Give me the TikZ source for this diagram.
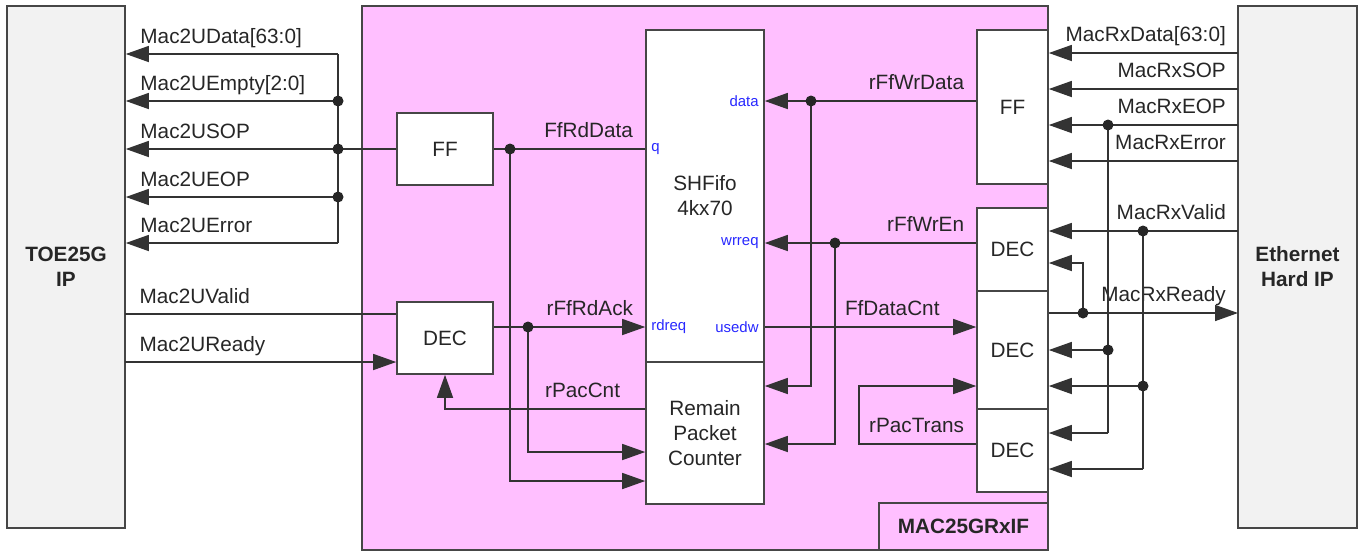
\documentclass[tikz,border=0pt]{standalone}
\usepackage{fontspec}
\setmainfont{Liberation Sans}
\usetikzlibrary{arrows.meta,positioning}

\definecolor{rose}{RGB}{255,191,255}
\definecolor{gris}{RGB}{242,242,242}
\definecolor{trait}{RGB}{70,70,70}
\definecolor{port}{RGB}{40,40,255}
\newcommand\taille{\fontsize{11.8}{14.2}\selectfont}

\tikzset{
  bloc/.style={draw=trait, line width=0.9pt, fill=white, inner sep=0pt, font=\taille},
  fil/.style={draw=black!80, line width=0.8pt},
  fl/.style={fil, -{Triangle[length=0.46cm,width=0.32cm]}},
  lg/.style={anchor=base west, inner sep=0pt, xshift=0.28cm, yshift=0.21cm},
  ld/.style={anchor=base east, inner sep=0pt, xshift=-0.23cm, yshift=0.23cm},
  portg/.style={anchor=west, text=port, font=\fontsize{8.5}{10}\selectfont},
  portd/.style={anchor=east, text=port, font=\fontsize{8.5}{10}\selectfont}
}

\begin{document}
\begin{tikzpicture}[x=0.02cm, y=-0.02cm, font=\taille, text=black!85]
\useasboundingbox (0,0) rectangle (1362,552);

% Blocs
\node[bloc, fill=rose, minimum width=13.72cm, minimum height=10.88cm] (mac) at (705,278) {};
\node[bloc, fill=gris, minimum width=2.36cm, minimum height=10.44cm, align=center, font=\taille\bfseries] (toe) at (66,267) {TOE25G\\IP};
\node[bloc, fill=gris, minimum width=2.38cm, minimum height=10.44cm, align=center, font=\taille\bfseries] (eth) at (1297.5,267) {Ethernet\\Hard IP};
\node[bloc, fill=rose, minimum width=3.38cm, minimum height=0.94cm, font=\taille\bfseries] (nom) at (963.5,526.5) {MAC25GRxIF};

\node[bloc, minimum width=1.92cm, minimum height=1.44cm] (ffL) at (445,149) {FF};
\node[bloc, minimum width=1.92cm, minimum height=1.44cm] (decL) at (445,338) {DEC};
\node[bloc, minimum width=2.36cm, minimum height=6.64cm, align=center] (fifo) at (705,196) {SHFifo\\4kx70};
\node[bloc, minimum width=2.36cm, minimum height=2.84cm, align=center, below=-0.9pt of fifo] (rpc) {Remain\\Packet\\Counter};
\node[bloc, minimum width=1.42cm, minimum height=3.08cm] (ffR) at (1012.5,107) {FF};
\node[bloc, minimum width=1.42cm, minimum height=1.66cm] (dec1) at (1012.5,249.5) {DEC};
\node[bloc, minimum width=1.42cm, minimum height=2.36cm, below=-0.9pt of dec1] (dec2) {DEC};
\node[bloc, minimum width=1.42cm, minimum height=1.66cm, below=-0.9pt of dec2] (dec3) {DEC};

% Points
\coordinate (bH) at (338,54);
\coordinate (j1) at (338,101);
\coordinate (j2) at (338,149);
\coordinate (j3) at (338,197);
\coordinate (bB) at (338,243);
\coordinate (uv) at (125,314);
\coordinate (ur) at (125,362);
\coordinate (pc) at (445,409);
\coordinate (dq) at (510,149);
\coordinate (dq2) at (510,481);
\coordinate (da) at (528,327);
\coordinate (da2) at (528,452);
\coordinate (dw) at (811,101);
\coordinate (dw2) at (811,386);
\coordinate (de) at (835,243);
\coordinate (de2) at (835,444);
\coordinate (pt) at (859,444);
\coordinate (pt2) at (859,386);
\coordinate (rd) at (1238,53);
\coordinate (rs) at (1238,89);
\coordinate (re) at (1238,125);
\coordinate (rx) at (1238,161);
\coordinate (rv) at (1238,231);
\coordinate (rr) at (1238,313);
\coordinate (ke) at (1108,125);
\coordinate (ke2) at (1108,350);
\coordinate (ke3) at (1108,433);
\coordinate (kv) at (1143,231);
\coordinate (kv2) at (1143,386);
\coordinate (kv3) at (1143,469);
\coordinate (kr) at (1083,313);
\coordinate (kr1) at (1083,263);

% Sorties vers TOE25G
\draw[fil] (bH) -- (bB);
\draw[fil] (ffL.west) -- (j2);
\draw[fl] (bH) -- (bH -| toe.east) node[lg] (lData) {Mac2UData[63:0]};
\draw[fl] (j1) -- (j1 -| toe.east) node[lg] (lEmpty) {Mac2UEmpty[2:0]};
\draw[fl] (j2) -- (j2 -| toe.east) node[lg] (lSop) {Mac2USOP};
\draw[fl] (j3) -- (j3 -| toe.east) node[lg] (lEop) {Mac2UEOP};
\draw[fl] (bB) -- (bB -| toe.east) node[lg] (lErr) {Mac2UError};
\draw[fil] (uv) node[lg] (lValid) {Mac2UValid} -- (uv -| decL.west);
\draw[fl] (ur) node[lg] (lReady) {Mac2UReady} -- (ur -| decL.west);

% Lecture FIFO
\draw[fil] (ffL.east) -- (ffL.east -| fifo.west) node[ld] (lRdData) {FfRdData};
\draw[fl] (dq) -- (dq2) -- (dq2 -| rpc.west);
\draw[fl] (decL.east |- da) -- (da -| fifo.west) node[ld] (lRdAck) {rFfRdAck};
\draw[fl] (da) -- (da2) -- (da2 -| rpc.west);
\draw[fl] (pc -| rpc.west) node[ld, xshift=-0.26cm] (lPac) {rPacCnt} -- (pc) -- (decL.south);

% Ecriture FIFO
\draw[fl] (dw -| ffR.west) node[ld] (lWrData) {rFfWrData} -- (dw -| fifo.east);
\draw[fl] (dw) -- (dw2) -- (dw2 -| rpc.east);
\draw[fl] (de -| dec1.west) node[ld] (lWrEn) {rFfWrEn} -- (de -| fifo.east);
\draw[fl] (de) -- (de2) -- (de2 -| rpc.east);
\draw[fl] (fifo.east |- da) -- (da -| dec2.west) node[ld, xshift=-0.49cm] (lCnt) {FfDataCnt};
\draw[fl] (pt -| dec3.west) node[ld] (lTrans) {rPacTrans} -- (pt) -- (pt2) -- (pt2 -| dec2.west);

% Ports
\node[portg] (pq) at (fifo.west |- dq) {q};
\node[portg] (prd) at (fifo.west |- da) {rdreq};
\node[portd] (pdat) at (fifo.east |- dw) {data};
\node[portd] (pwr) at (fifo.east |- de) {wrreq};
\node[portd] (pus) at (fifo.east |- da) {usedw};

% Entrees Ethernet
\draw[fl] (rd) node[ld] (lRxData) {MacRxData[63:0]} -- (rd -| ffR.east);
\draw[fl] (rs) node[ld] (lRxSop) {MacRxSOP} -- (rs -| ffR.east);
\draw[fl] (re) node[ld] (lRxEop) {MacRxEOP} -- (re -| ffR.east);
\draw[fl] (rx) node[ld] (lRxErr) {MacRxError} -- (rx -| ffR.east);
\draw[fl] (rv) node[ld] (lRxValid) {MacRxValid} -- (rv -| dec1.east);
\draw[fl] (rr -| dec2.east) -- (rr) node[ld] (lRxReady) {MacRxReady};
\draw[fil] (ke) -- (ke3);
\draw[fl] (ke2) -- (ke2 -| dec2.east);
\draw[fl] (ke3) -- (ke3 -| dec3.east);
\draw[fil] (kv) -- (kv3);
\draw[fl] (kv2) -- (kv2 -| dec2.east);
\draw[fl] (kv3) -- (kv3 -| dec3.east);
\draw[fl] (kr) -- (kr1) -- (kr1 -| dec1.east);

% Jonctions
\foreach \p in {j1,j2,j3,dq,da,dw,de,ke,ke2,kv,kv2,kr}
  \fill[black!85] (\p) circle (0.11cm);

\end{tikzpicture}
\end{document}
